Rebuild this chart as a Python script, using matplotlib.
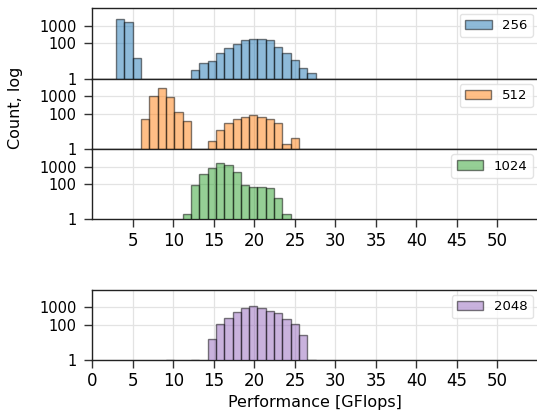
import numpy as np
import matplotlib
matplotlib.use("Agg")
import matplotlib.pyplot as plt
from matplotlib.ticker import FixedLocator, NullLocator, FixedFormatter

# ---- data ----
bin_start = 2.94
bin_width = 1.026
n_bins = 24

labels = ["256", "512", "1024", "2048"]
colors = ["tab:blue", "tab:orange", "tab:green", "tab:purple"]

counts_256 = [2450, 1740, 15, 0, 0, 0, 0, 0, 0, 3, 8, 10, 27, 58, 97, 150,
              170, 178, 150, 63, 30, 12, 4, 2]
counts_512 = [0, 0, 0, 49, 1020, 2800, 870, 122, 41, 0, 0, 3, 12, 29, 54, 63,
              85, 63, 54, 29, 2, 4, 0, 0]
counts_1024 = [0, 0, 0, 0, 0, 0, 0, 0, 2, 93, 400, 870, 1600, 1230, 490, 85,
               69, 72, 58, 17, 2, 0, 0, 0]
counts_2048 = [0, 0, 0, 0, 0, 0, 1, 0, 0, 1, 0, 15, 107, 234, 550, 870,
               1170, 870, 630, 450, 214, 107, 26, 1]

ytick_vals = [1, 100, 1000]
ytick_labels = ["1", "100", "1000"]
xticks_top = list(range(5, 55, 5))
xticks_bottom = list(range(0, 55, 5))

all_counts = [counts_256, counts_512, counts_1024, counts_2048]

edges = bin_start + bin_width * np.arange(n_bins + 1)
centers = (edges[:-1] + edges[1:]) / 2

fig = plt.figure(figsize=(5.37, 4.20), dpi=100)
left = 92.3 / 537
right = 538.0 / 537
top = 1 - 8.3 / 420
bottom = 1 - 360.0 / 420
h = (top - bottom) / 5

axes = []
for i, row in enumerate([0, 1, 2, 4]):
    y0 = top - (row + 1) * h
    ax = fig.add_axes([left, y0, right - left, h])
    axes.append(ax)

for i, ax in enumerate(axes):
    c = np.array(all_counts[i], dtype=float)
    mask = c > 0
    ax.set_yscale("log")
    ax.hist(centers[mask], bins=edges, weights=c[mask], color=colors[i],
            alpha=0.5, edgecolor="black", linewidth=1.0, label=labels[i],
            zorder=3)
    ax.set_xlim(0, 55)
    ax.set_ylim(1, 1e4)
    ax.yaxis.set_major_locator(FixedLocator(ytick_vals))
    ax.yaxis.set_major_formatter(FixedFormatter(ytick_labels))
    ax.yaxis.set_minor_locator(NullLocator())
    ax.tick_params(axis="y", labelsize=10.5, length=5.5, width=1,
                   color="#333333", pad=6)
    ax.grid(True, color="#e3e3e3", linewidth=0.9, zorder=0)
    ax.set_axisbelow(True)
    for s in ax.spines.values():
        s.set_color("#222222")
        s.set_linewidth(1.0)
    leg = ax.legend(loc="upper right", fontsize=9.5, handlelength=2.0,
                    fancybox=True, framealpha=0.8, borderaxespad=0.4)
    leg.get_frame().set_edgecolor("#dddddd")
    if i < 3:
        ax.set_xticks(xticks_top)
    else:
        ax.set_xticks(xticks_bottom)
    if i < 2:
        ax.tick_params(axis="x", labelbottom=False, length=0)
    else:
        ax.tick_params(axis="x", labelsize=12, length=5.5, width=1,
                       color="#333333")

axes[3].set_xlabel("Performance [GFlops]", fontsize=11.5, labelpad=3)
fig.text(0.029, 1 - 108 / 420, "Count, log", rotation=90, va="center",
         ha="center", fontsize=11.5)

fig.savefig("out.png", dpi=100)
